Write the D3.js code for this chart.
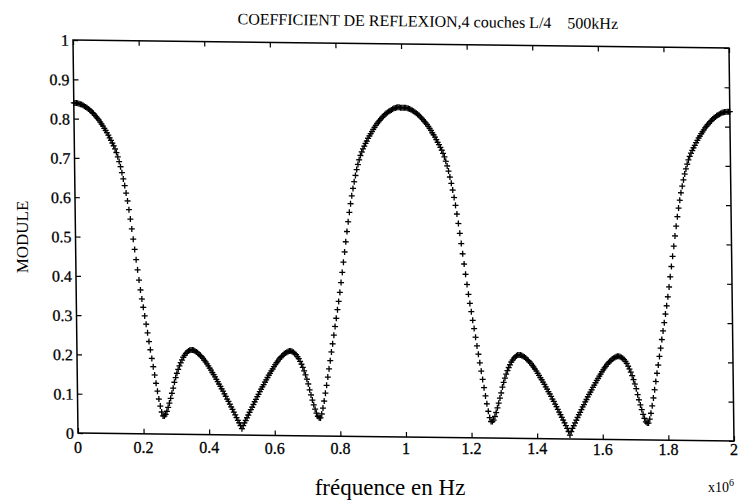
<!DOCTYPE html>
<html><head><meta charset="utf-8">
<script src="https://cdn.jsdelivr.net/npm/d3@7"></script>
<style>
body{margin:0;background:#fff}
svg{display:block}
text{font-family:"Liberation Serif","Times New Roman",serif;fill:#000;white-space:pre}
</style>
</head><body><svg id="c" width="741" height="503"></svg>
<script>
const titleText = "COEFFICIENT DE REFLEXION,4 couches L/4    500kHz";
const xAxisLabel = "fréquence en Hz";
const yAxisLabel = "MODULE";
const xExponentBase = "x10";
const xExponent = "6";
const xTickValues = [0, 200000, 400000, 600000, 800000, 1000000, 1200000, 1400000, 1600000, 1800000, 2000000];
const xTickLabels = ["0", "0.2", "0.4", "0.6", "0.8", "1", "1.2", "1.4", "1.6", "1.8", "2"];
const yTickValues = [0, 0.1, 0.2, 0.3, 0.4, 0.5, 0.6, 0.7, 0.8, 0.9, 1];
const yTickLabels = ["0", "0.1", "0.2", "0.3", "0.4", "0.5", "0.6", "0.7", "0.8", "0.9", "1"];
const freqStartHz = 0;
const freqStepHz = 4000;
const moduleValues = [
.840,.840,.840,.839,.838,.837,.836,.834,.832,.830,
.828,.825,.823,.820,.816,.813,.809,.805,.801,.797,
.792,.787,.782,.776,.771,.765,.759,.752,.746,.739,
.732,.724,.715,.704,.692,.679,.664,.648,.631,.612,
.592,.570,.546,.521,.495,.469,.443,.417,.391,.366,
.343,.322,.300,.279,.257,.235,.214,.192,.171,.150,
.129,.109,.089,.071,.056,.046,.046,.050,.058,.068,
.079,.091,.104,.117,.132,.144,.155,.165,.174,.182,
.189,.196,.201,.206,.209,.212,.214,.215,.215,.214,
.212,.210,.208,.204,.201,.198,.194,.189,.185,.180,
.175,.169,.164,.158,.153,.147,.141,.135,.129,.123,
.117,.111,.104,.098,.091,.085,.078,.071,.065,.058,
.051,.044,.037,.031,.024,.016,
.024,.031,.037,.044,.051,.058,.065,.071,.078,.085,
.091,.098,.104,.111,.117,.123,.129,.135,.141,.147,
.153,.158,.164,.169,.175,.180,.185,.189,.194,.198,
.201,.204,.208,.210,.212,.214,.215,.215,.214,.212,
.209,.206,.201,.196,.189,.182,.174,.165,.155,.144,
.132,.117,.104,.091,.079,.068,.058,.050,.046,.046,
.056,.071,.089,.109,.129,.150,.171,.192,.214,.235,
.257,.279,.300,.322,.343,.366,.391,.417,.443,.469,
.495,.521,.546,.570,.592,.612,.631,.648,.664,.679,
.692,.704,.715,.724,.732,.739,.746,.752,.759,.765,
.771,.776,.782,.787,.792,.797,.801,.805,.809,.813,
.816,.820,.823,.825,.828,.830,.832,.834,.836,.837,
.838,.839,.839,.838,.838,
.838,.838,.838,.837,.836,.835,.833,.831,.829,
.827,.824,.822,.819,.815,.812,.808,.804,.800,.796,
.791,.786,.781,.775,.770,.764,.758,.751,.745,.738,
.731,.723,.714,.703,.691,.678,.663,.647,.630,.611,
.591,.569,.545,.520,.494,.468,.442,.416,.390,.365,
.342,.321,.299,.278,.256,.234,.213,.191,.170,.149,
.128,.107,.087,.068,.052,.042,.042,.046,.055,.065,
.077,.089,.102,.115,.130,.142,.153,.163,.172,.180,
.187,.194,.199,.204,.207,.210,.212,.212,.212,.211,
.209,.207,.205,.201,.198,.195,.191,.186,.182,.177,
.172,.166,.161,.155,.150,.144,.138,.132,.126,.120,
.114,.108,.101,.095,.088,.082,.075,.068,.062,.055,
.048,.041,.034,.027,.019,.010,
.019,.027,.034,.041,.048,.055,.062,.068,.075,.082,
.088,.095,.101,.108,.114,.120,.126,.132,.138,.144,
.150,.155,.161,.166,.172,.177,.182,.186,.191,.195,
.198,.201,.205,.207,.209,.211,.212,.212,.211,.209,
.207,.204,.199,.194,.187,.180,.172,.163,.153,.142,
.130,.115,.102,.089,.077,.065,.055,.046,.043,.043,
.053,.068,.087,.107,.128,.149,.170,.191,.213,.234,
.256,.278,.299,.321,.342,.365,.390,.416,.442,.468,
.494,.520,.545,.569,.591,.611,.630,.647,.663,.678,
.691,.703,.714,.723,.731,.738,.745,.751,.758,.764,
.770,.775,.781,.786,.791,.796,.800,.804,.808,.812,
.815,.819,.822,.824,.827,.829,.831,.833,.835,.836,
.837,.837,.838,.838,.838
];
const points = moduleValues.map((v, i) => ({f: freqStartHz + i * freqStepHz, v}));

const svg = d3.select("#c");
const plotLeft = 73, plotTop = 40, W = 656, H = 393;
const shearX = 0.0127, shearY = 0.0122;

const x = d3.scaleLinear().domain([0, 2000000]).range([0, W]);
const y = d3.scaleLinear().domain([0, 1]).range([H, 0]);

const g = svg.append("g")
  .attr("transform", `matrix(1,${shearY},${shearX},1,${plotLeft},${plotTop})`);

const tickLen = 5;
g.append("g").attr("transform", `translate(0,${H})`)
  .call(d3.axisBottom(x).tickValues(xTickValues).tickSizeInner(-tickLen).tickSizeOuter(0).tickFormat(""))
  .call(s => s.select(".domain").remove());
g.append("g")
  .call(d3.axisTop(x).tickValues(xTickValues).tickSizeInner(-tickLen).tickSizeOuter(0).tickFormat(""))
  .call(s => s.select(".domain").remove());
g.append("g")
  .call(d3.axisLeft(y).tickValues(yTickValues).tickSizeInner(-tickLen).tickSizeOuter(0).tickFormat(""))
  .call(s => s.select(".domain").remove());
g.append("g").attr("transform", `translate(${W},0)`)
  .call(d3.axisRight(y).tickValues(yTickValues).tickSizeInner(-tickLen).tickSizeOuter(0).tickFormat(""))
  .call(s => s.select(".domain").remove());
g.selectAll(".tick line").attr("stroke", "#000").attr("stroke-width", 1.2);

g.append("rect").attr("x", 0).attr("y", 0).attr("width", W).attr("height", H)
  .attr("fill", "none").attr("stroke", "#000").attr("stroke-width", 1.5);

// y tick labels follow the (skewed) left axis
g.selectAll(".yl").data(yTickValues).join("text")
  .attr("x", -4).attr("y", d => y(d) + 6)
  .attr("text-anchor", "end").attr("font-size", 16)
  .attr("stroke", "#000").attr("stroke-width", 0.3)
  .text((d, i) => yTickLabels[i]);

// x tick labels under the bottom axis
svg.selectAll(".xl").data(xTickValues).join("text")
  .attr("x", d => plotLeft + shearX * H + x(d))
  .attr("y", d => 453 + x(d) * 0.003)
  .attr("text-anchor", "middle").attr("font-size", 16)
  .attr("stroke", "#000").attr("stroke-width", 0.3)
  .text((d, i) => xTickLabels[i]);

g.append("g").selectAll("path").data(points).join("path")
  .attr("transform", d => `translate(${x(d.f)},${y(d.v)})`)
  .attr("d", "M-3,0H3M0,-3V3")
  .attr("stroke", "#000").attr("stroke-width", 1.3).attr("fill", "none");

svg.append("text").attr("transform", "translate(618,29) rotate(0.7)")
  .attr("text-anchor", "end").attr("font-size", 16).text(titleText);
svg.append("text").attr("x", 390).attr("y", 495).attr("text-anchor", "middle")
  .attr("font-size", 23).text(xAxisLabel);
const ex = svg.append("text").attr("x", 708).attr("y", 492).attr("font-size", 14);
ex.append("tspan").text(xExponentBase);
ex.append("tspan").attr("dy", -6).attr("font-size", 10).text(xExponent);
svg.append("text").attr("transform", "translate(28,237) rotate(-90)")
  .attr("text-anchor", "middle").attr("font-size", 17).text(yAxisLabel);
</script>
</body></html>
